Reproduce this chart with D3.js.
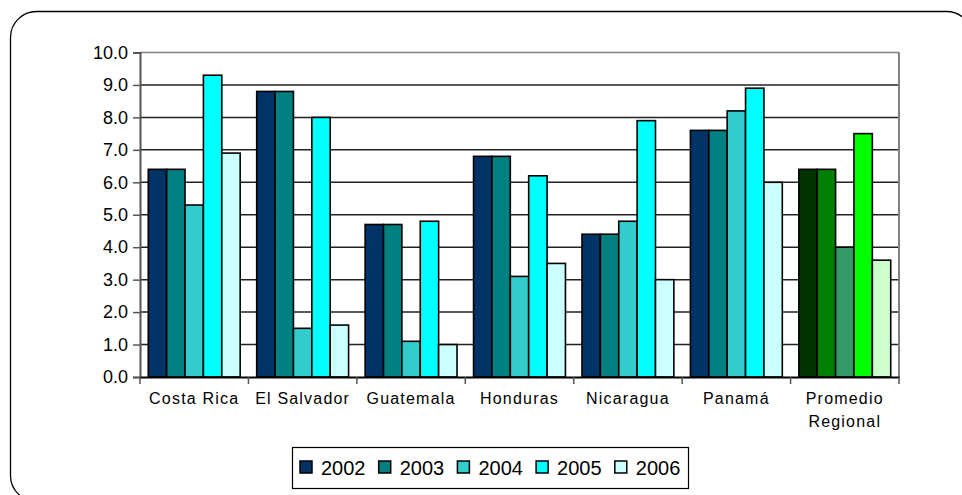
<!DOCTYPE html>
<html><head><meta charset="utf-8">
<script src="https://cdn.jsdelivr.net/npm/d3@7"></script>
<style>body{margin:0;background:#fff;overflow:hidden;}svg{display:block;font-family:"Liberation Sans",Arial,sans-serif;}</style>
</head><body>
<svg id="c" width="962" height="495"></svg>
<script>
const categories = ["Costa Rica","El Salvador","Guatemala","Honduras","Nicaragua","Panamá","Promedio Regional"];
const years = ["2002","2003","2004","2005","2006"];
const v2002 = [6.4, 8.8, 4.7, 6.8, 4.4, 7.6, 6.4];
const v2003 = [6.4, 8.8, 4.7, 6.8, 4.4, 7.6, 6.4];
const v2004 = [5.3, 1.5, 1.1, 3.1, 4.8, 8.2, 4.0];
const v2005 = [9.3, 8.0, 4.8, 6.2, 7.9, 8.9, 7.5];
const v2006 = [6.9, 1.6, 1.0, 3.5, 3.0, 6.0, 3.6];
const series = [v2002, v2003, v2004, v2005, v2006];
const colors = ["#003366","#008080","#33CCCC","#00FFFF","#CCFFFF"];
const avgColors = ["#003300","#008000","#339966","#00FF00","#CCFFCC"];
const yTicks = [0,1,2,3,4,5,6,7,8,9,10];

const svg = d3.select("#c");
// outer frame (extends past the right and bottom edges)
svg.append("rect").attr("x",10.5).attr("y",11.5).attr("width",962).attr("height",490)
  .attr("rx",26).attr("fill","none").attr("stroke","#000").attr("stroke-width",1.3);

const L=140, R=899, T=52.5, B=377;
const x0 = d3.scaleBand().domain(categories).range([L,R]).paddingInner(0).paddingOuter(0);
const x1 = d3.scaleBand().domain(years).range([0,x0.bandwidth()]).paddingOuter(0.45).paddingInner(0);
const y = d3.scaleLinear().domain([0,10]).range([B,T]);

// gridlines
svg.append("g").selectAll("line").data(yTicks.filter(d=>d>0)).join("line")
  .attr("x1",L).attr("x2",R).attr("y1",d=>y(d)).attr("y2",d=>y(d))
  .attr("stroke",d=>d===10?"#808080":"#222").attr("stroke-width",1.5);
// right border
svg.append("line").attr("x1",R).attr("x2",R).attr("y1",T).attr("y2",B)
  .attr("stroke","#808080").attr("stroke-width",2);

// bars
const data = [];
categories.forEach((c,i)=>years.forEach((yr,j)=>data.push({c,yr,j,v:series[j][i],avg:i===categories.length-1})));
svg.append("g").selectAll("rect").data(data).join("rect")
  .attr("x",d=>x0(d.c)+x1(d.yr)).attr("width",x1.bandwidth())
  .attr("y",d=>y(d.v)).attr("height",d=>B-y(d.v))
  .attr("fill",d=>d.avg?avgColors[d.j]:colors[d.j])
  .attr("stroke","#000").attr("stroke-width",1.6);

// y axis
const ya = svg.append("g").attr("transform",`translate(${L},0)`)
  .call(d3.axisLeft(y).tickValues(yTicks).tickFormat(d3.format(".1f")).tickSize(7).tickPadding(5));
ya.select(".domain").attr("stroke","#555").attr("stroke-width",2);
ya.selectAll(".tick line").attr("stroke","#555").attr("stroke-width",1.5);
ya.selectAll(".tick text").attr("font-size",18).attr("fill","#000").attr("font-family","Liberation Sans, Arial, sans-serif");

// x axis
const xa = svg.append("g").attr("transform",`translate(0,${B})`)
  .call(d3.axisBottom(x0).tickSize(0).tickFormat(""));
xa.select(".domain").attr("stroke","#000").attr("stroke-width",2);
// category separator ticks
svg.append("g").selectAll("line").data(categories.concat(["end"])).join("line")
  .attr("x1",(d,i)=>L+i*x0.step()).attr("x2",(d,i)=>L+i*x0.step())
  .attr("y1",B).attr("y2",B+7).attr("stroke","#555").attr("stroke-width",1.5);
// labels
const lab = svg.append("g").selectAll("text").data(categories).join("text")
  .attr("x",d=>x0(d)+x0.bandwidth()/2).attr("y",B+27)
  .attr("text-anchor","middle").attr("font-size",16).attr("letter-spacing","1.2px").attr("fill","#000");
lab.each(function(d){
  const words = d.split(" ");
  const t = d3.select(this);
  if (d==="Promedio Regional"){
    words.forEach((w,k)=>t.append("tspan").attr("x",x0(d)+x0.bandwidth()/2).attr("dy",k===0?0:23).text(w));
  } else t.text(d);
});

// legend
const lg = svg.append("g");
lg.append("rect").attr("x",292.5).attr("y",447.5).attr("width",396).attr("height",41)
  .attr("fill","#fff").attr("stroke","#000").attr("stroke-width",1.2);
const step = 78.7;
years.forEach((yr,j)=>{
  const gx = 300 + j*step;
  lg.append("rect").attr("x",gx).attr("y",461).attr("width",12).attr("height",12)
    .attr("fill",colors[j]).attr("stroke","#000").attr("stroke-width",1.5);
  lg.append("text").attr("x",gx+21).attr("y",475).attr("font-size",20).attr("fill","#000").text(yr);
});
</script>
</body></html>
